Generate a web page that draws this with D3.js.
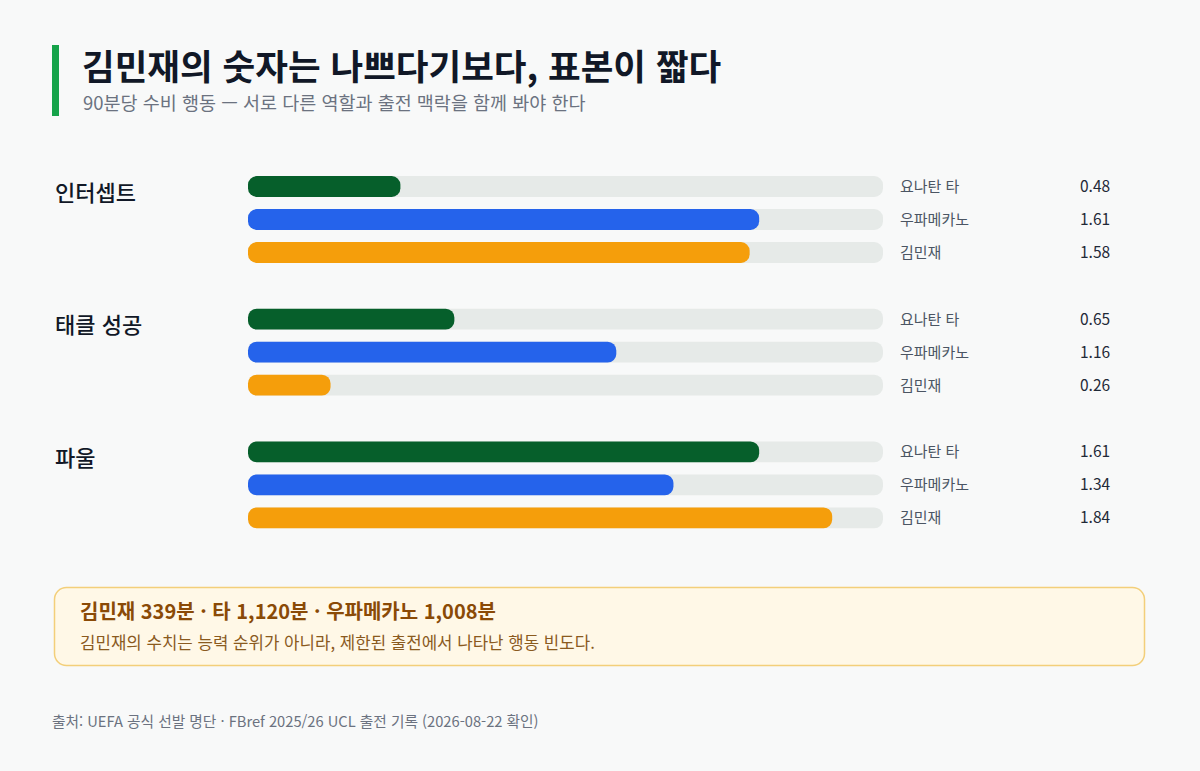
<!DOCTYPE html>
<html lang="ko">
<head>
<meta charset="utf-8">
<script src="https://cdn.jsdelivr.net/npm/d3@7"></script>
<style>
  html, body { margin: 0; padding: 0; background: #f8f9f9; }
  svg { display: block; font-family: "Noto Sans CJK KR", "Noto Sans", sans-serif; }
</style>
</head>
<body>
<div id="chart"></div>
<script>
// data
const metrics = ["인터셉트", "태클 성공", "파울"];
const players = ["요나탄 타", "우파메카노", "김민재"];
const taValues = [0.48, 0.65, 1.61];
const upaValues = [1.61, 1.16, 1.34];
const kimValues = [1.58, 0.26, 1.84];
const seriesValues = [taValues, upaValues, kimValues];
const valueTicks = [0, 2];
const colors = ["#065f2b", "#2563eb", "#f59e0b"];

const svgWidth = 1200;
const svgHeight = 771;

const svg = d3.select("#chart")
  .append("svg")
  .attr("width", svgWidth)
  .attr("height", svgHeight);

svg.append("rect")
  .attr("width", svgWidth)
  .attr("height", svgHeight)
  .attr("fill", "#f8f9f9");

// header
svg.append("rect")
  .attr("x", 52).attr("y", 45)
  .attr("width", 7).attr("height", 71)
  .attr("fill", "#16a34a");

svg.append("text")
  .attr("x", 82).attr("y", 80)
  .attr("font-size", 35.5)
  .attr("font-weight", 700)
  .attr("fill", "#111827")
  .text("김민재의 숫자는 나쁘다기보다, 표본이 짧다");

svg.append("text")
  .attr("x", 83).attr("y", 110)
  .attr("font-size", 18.5)
  .attr("fill", "#6b7280")
  .text("90분당 수비 행동 — 서로 다른 역할과 출전 맥락을 함께 봐야 한다");

// scales
const x = d3.scaleLinear()
  .domain(d3.extent(valueTicks))
  .range([248, 883]);

const yGroup = d3.scaleBand()
  .domain(metrics)
  .range([154, 552]);

const yRow = d3.scaleBand()
  .domain(players)
  .range([0, 99])
  .paddingInner(0.37)
  .paddingOuter(0.185);

const barH = yRow.bandwidth();

const groups = svg.selectAll("g.metric")
  .data(metrics)
  .enter()
  .append("g")
  .attr("class", "metric")
  .attr("transform", d => `translate(0, ${yGroup(d) + 16})`);

groups.append("text")
  .attr("x", 55)
  .attr("y", yRow(players[0]) + barH / 2 + 14)
  .attr("font-size", 22)
  .attr("font-weight", 500)
  .attr("fill", "#111827")
  .text(d => d);

const rows = groups.selectAll("g.row")
  .data((d, i) => players.map((p, j) => ({ player: p, value: seriesValues[j][i], idx: j })))
  .enter()
  .append("g")
  .attr("class", "row")
  .attr("transform", d => `translate(0, ${yRow(d.player)})`);

rows.append("rect")
  .attr("x", x(0))
  .attr("width", x.range()[1] - x(0))
  .attr("height", barH)
  .attr("rx", barH / 2.4)
  .attr("fill", "#e6eae8");

rows.append("rect")
  .attr("x", x(0))
  .attr("width", d => x(d.value) - x(0))
  .attr("height", barH)
  .attr("rx", barH / 2.4)
  .attr("fill", d => colors[d.idx]);

rows.append("text")
  .attr("x", 900)
  .attr("y", barH / 2 + 5.5)
  .attr("font-size", 15)
  .attr("fill", "#4b5563")
  .text(d => d.player);

rows.append("text")
  .attr("x", 1080)
  .attr("y", barH / 2 + 5.5)
  .attr("font-size", 15.5)
  .attr("fill", "#1f2937")
  .text(d => d3.format(".2f")(d.value));

// minutes note
svg.append("rect")
  .attr("x", 54.5).attr("y", 587.5)
  .attr("width", 1090).attr("height", 78)
  .attr("rx", 12)
  .attr("fill", "#fff8e7")
  .attr("stroke", "#f3cf7a")
  .attr("stroke-width", 1.5);

svg.append("text")
  .attr("x", 80).attr("y", 619)
  .attr("font-size", 20)
  .attr("font-weight", 700)
  .attr("fill", "#8a4a06")
  .text("김민재 339분 · 타 1,120분 · 우파메카노 1,008분");

svg.append("text")
  .attr("x", 80).attr("y", 649)
  .attr("font-size", 16.8)
  .attr("fill", "#8a5a1e")
  .text("김민재의 수치는 능력 순위가 아니라, 제한된 출전에서 나타난 행동 빈도다.");

svg.append("text")
  .attr("x", 52).attr("y", 727)
  .attr("font-size", 14.7)
  .attr("fill", "#6b7280")
  .text("출처: UEFA 공식 선발 명단 · FBref 2025/26 UCL 출전 기록 (2026-08-22 확인)");
</script>
</body>
</html>
